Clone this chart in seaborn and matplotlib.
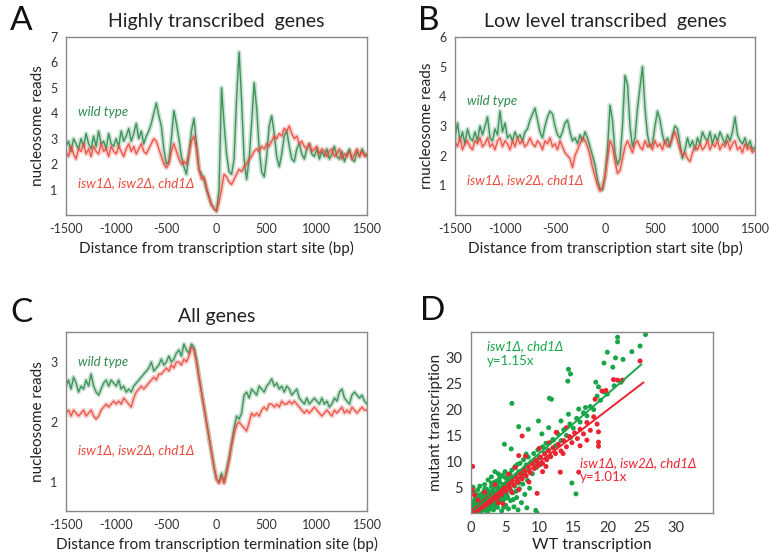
import numpy as np
import pandas as pd
import matplotlib
matplotlib.use("Agg")
import matplotlib.pyplot as plt
import seaborn as sns

# --- datos (paso de 25 pb, -1500 .. 1500) ---
a_wt = [2.7, 2.9, 2.5, 3.0, 2.8, 2.6, 3.0, 2.7, 3.2, 2.8,
        2.6, 3.1, 2.7, 3.3, 2.8, 2.9, 2.6, 3.2, 2.8, 2.7,
        3.0, 2.7, 3.3, 2.9, 3.1, 3.4, 2.9, 3.2, 3.6, 3.0,
        3.3, 2.8, 3.1, 3.3, 3.6, 4.0, 4.4, 3.9, 3.5, 2.6,
        2.0, 2.1, 3.0, 4.1, 3.6, 3.0, 2.3, 1.9, 1.6, 2.4,
        3.3, 3.8, 2.8, 1.8, 1.6, 1.4, 1.0, 0.7, 0.4, 0.25,
        0.15, 1.0, 5.0, 3.6, 2.4, 1.7, 1.6, 2.2, 4.6, 6.4,
        4.5, 2.2, 1.4, 2.2, 3.6, 5.2, 4.2, 2.6, 1.7, 1.5,
        2.3, 3.5, 3.9, 3.2, 2.3, 1.9, 2.4, 3.1, 3.3, 2.7,
        2.2, 2.1, 2.6, 2.8, 2.4, 2.2, 2.6, 2.8, 2.4, 2.3,
        2.6, 2.2, 2.5, 2.3, 2.6, 2.2, 2.4, 2.7, 2.3, 2.2,
        2.5, 2.1, 2.4, 2.6, 2.2, 2.1, 2.5, 2.3, 2.6, 2.4,
        2.3]
a_mut = [2.5, 2.3, 2.7, 2.4, 2.2, 2.6, 2.5, 2.8, 2.4, 2.6,
         2.3, 2.7, 2.5, 2.4, 2.8, 2.5, 2.6, 2.3, 2.7, 2.5,
         2.4, 2.7, 2.5, 2.3, 2.6, 2.8, 2.5, 2.7, 2.4, 2.6,
         2.8, 2.5, 2.4, 2.6, 2.8, 3.0, 2.9, 2.6, 2.3, 2.0,
         1.85, 2.0, 2.5, 2.8, 2.5, 2.2, 2.0, 2.1, 2.0, 2.4,
         2.9, 3.1, 2.6, 1.8, 1.4, 1.5, 1.1, 0.7, 0.4, 0.25,
         0.15, 0.5, 1.0, 1.6, 1.5, 1.3, 1.2, 1.4, 1.6, 1.8,
         1.7, 1.9, 2.0, 2.2, 2.3, 2.5, 2.6, 2.5, 2.7, 2.6,
         2.8, 2.7, 2.9, 3.1, 3.0, 3.2, 3.1, 3.4, 3.3, 3.5,
         3.2, 3.0, 3.1, 2.8, 2.9, 2.7, 2.6, 2.8, 2.5, 2.6,
         2.7, 2.4, 2.6, 2.5, 2.3, 2.5, 2.6, 2.3, 2.4, 2.6,
         2.2, 2.4, 2.3, 2.5, 2.2, 2.4, 2.6, 2.3, 2.5, 2.3,
         2.4]

b_wt = [2.6, 3.1, 2.5, 2.8, 2.4, 2.9, 2.6, 2.5, 2.8, 2.5,
        3.0, 2.7, 3.0, 3.3, 2.6, 2.5, 2.9, 2.7, 3.5, 2.8,
        3.1, 2.6, 2.7, 2.5, 2.8, 2.6, 2.7, 2.5, 2.8, 2.9,
        3.2, 3.4, 3.6, 3.2, 2.8, 2.6, 3.0, 3.3, 3.5, 3.4,
        3.0, 2.7, 2.6, 2.8, 3.1, 3.2, 2.8, 2.5, 2.6, 2.4,
        2.7, 2.5, 2.8, 2.6, 2.3, 2.0, 1.7, 1.2, 0.9, 0.85,
        1.3, 2.2, 3.7, 3.2, 2.1, 1.7, 1.9, 3.0, 4.7, 4.4,
        3.0, 2.3, 2.6, 3.6, 4.3, 5.0, 3.6, 2.7, 2.3, 2.4,
        3.0, 3.5, 3.2, 2.7, 2.4, 2.6, 2.3, 2.7, 3.0, 2.9,
        2.4, 1.9, 2.2, 2.6, 2.3, 2.5, 2.2, 2.6, 2.4, 2.8,
        2.6, 2.5, 2.8, 2.4, 2.7, 2.5, 2.8, 2.6, 2.4, 2.7,
        2.5, 2.8, 3.3, 2.7, 2.5, 2.4, 2.6, 2.3, 2.5, 2.2,
        2.3]
b_mut = [2.5, 2.3, 2.6, 2.2, 2.4, 2.5, 2.3, 2.2, 2.5, 2.4,
         2.6, 2.3, 2.4, 2.6, 2.3, 2.4, 2.2, 2.5, 2.6, 2.3,
         2.5, 2.4, 2.2, 2.5, 2.3, 2.6, 2.4, 2.5, 2.3, 2.4,
         2.6, 2.4, 2.3, 2.5, 2.4, 2.2, 2.5, 2.4, 2.6, 2.3,
         2.4, 2.2, 2.5, 2.3, 2.1, 2.0, 1.9, 1.6, 2.0, 2.2,
         2.4, 2.6, 2.5, 2.3, 2.0, 1.6, 1.3, 1.0, 0.8, 0.9,
         1.3, 1.9, 2.5, 2.3, 1.8, 1.4, 1.5, 1.9, 2.3, 2.5,
         2.3, 2.1, 2.4, 2.5, 2.3, 2.2, 2.5, 2.3, 2.4, 2.2,
         2.5, 2.3, 2.4, 2.2, 2.5, 2.3, 2.4, 2.6, 2.8, 2.5,
         2.2, 2.0, 2.1, 1.9, 1.8, 2.1, 2.3, 2.2, 2.4, 2.2,
         2.3, 2.5, 2.2, 2.4, 2.3, 2.5, 2.2, 2.4, 2.3, 2.5,
         2.2, 2.4, 2.5, 2.2, 2.3, 2.1, 2.4, 2.2, 2.3, 2.1,
         2.2]

c_wt = [2.6, 2.7, 2.55, 2.75, 2.65, 2.5, 2.6, 2.55, 2.7, 2.6,
        2.8, 2.6, 2.5, 2.45, 2.55, 2.65, 2.7, 2.6, 2.7, 2.65,
        2.6, 2.7, 2.55, 2.6, 2.5, 2.55, 2.5, 2.6, 2.65, 2.7,
        2.75, 2.8, 2.85, 2.9, 3.0, 2.85, 2.9, 2.95, 3.05, 2.95,
        3.0, 3.1, 3.0, 3.05, 3.15, 3.2, 3.1, 3.3, 3.2, 3.15,
        3.3, 3.25, 3.05, 2.75, 2.5, 2.25, 2.0, 1.75, 1.5, 1.25,
        1.05, 1.0, 1.15, 1.0, 1.2, 1.4, 1.65, 1.9, 2.1, 2.05,
        2.15, 2.45, 2.5, 2.4, 2.55, 2.5, 2.45, 2.6, 2.55, 2.5,
        2.6, 2.65, 2.72, 2.6, 2.65, 2.55, 2.6, 2.5, 2.6, 2.55,
        2.45, 2.5, 2.55, 2.4, 2.35, 2.3, 2.4, 2.3, 2.35, 2.4,
        2.35, 2.3, 2.4, 2.3, 2.35, 2.25, 2.3, 2.4, 2.35, 2.5,
        2.55, 2.4, 2.35, 2.3, 2.45, 2.5, 2.45, 2.4, 2.45, 2.35,
        2.3]
c_mut = [2.15, 2.2, 2.1, 2.2, 2.15, 2.1, 2.15, 2.2, 2.1, 2.15,
         2.2, 2.1, 2.05, 2.1, 2.2, 2.25, 2.3, 2.25, 2.3, 2.35,
         2.3, 2.35, 2.3, 2.4, 2.35, 2.3, 2.25, 2.4, 2.5, 2.55,
         2.6, 2.55, 2.6, 2.65, 2.7, 2.75, 2.7, 2.8, 2.8, 2.85,
         2.9, 2.85, 2.95, 2.9, 3.0, 3.0, 2.95, 3.05, 3.0, 3.1,
         3.25, 3.2, 3.0, 2.75, 2.5, 2.25, 2.0, 1.75, 1.5, 1.25,
         1.05, 0.98, 1.1, 0.98, 1.15, 1.35, 1.6, 1.8, 1.95, 2.0,
         1.95, 1.9, 1.85, 2.0, 2.15, 2.1, 2.15, 2.1, 2.2, 2.25,
         2.2, 2.3, 2.3, 2.25, 2.3, 2.25, 2.35, 2.3, 2.3, 2.35,
         2.3, 2.35, 2.3, 2.25, 2.2, 2.15, 2.2, 2.15, 2.2, 2.25,
         2.2, 2.15, 2.1, 2.15, 2.2, 2.15, 2.1, 2.2, 2.15, 2.2,
         2.25, 2.15, 2.2, 2.15, 2.25, 2.2, 2.15, 2.2, 2.25, 2.2,
         2.2]

# panel D: transcripcion WT vs mutante
d_g_x = [0.3, 0.5, 0.6, 0.8, 0.9, 1.0, 1.1, 1.2, 1.3, 1.4, 1.5, 1.6, 1.7, 1.8, 1.9,
         2.0, 2.1, 2.2, 2.3, 2.4, 2.5, 2.6, 2.7, 2.8, 2.9, 3.0, 3.1, 3.2, 3.3, 3.4,
         3.5, 3.6, 3.7, 3.8, 3.9, 4.0, 4.1, 4.2, 4.3, 4.4, 4.5, 4.6, 4.7, 4.8, 4.9,
         5.0, 5.1, 5.2, 5.3, 5.4, 5.5, 5.6, 5.7, 5.8, 5.9, 6.0, 6.1, 6.2, 6.3, 6.4,
         6.5, 6.6, 6.7, 6.8, 6.9, 7.0, 7.1, 7.2, 7.3, 7.4, 7.5, 7.6, 7.7, 7.8, 7.9,
         8.0, 8.1, 8.2, 8.3, 8.4, 8.5, 8.6, 8.8, 9.0, 9.2, 9.4, 9.6, 9.8, 10.0, 10.2,
         10.5, 10.8, 11.0, 11.3, 11.6, 12.0, 12.4, 12.8, 13.2, 13.6, 14.0, 14.5, 15.0,
         15.5, 16.0, 16.5, 17.0, 17.5, 18.0, 18.5, 19.0, 19.5, 20.0, 21.0, 22.0,
         0.2, 0.4, 0.7, 0.9, 1.2, 1.5, 1.9, 2.3, 2.6, 3.0, 3.3, 3.7, 4.0, 4.4,
         0.5, 0.6, 1.0, 1.3, 2.0, 2.5, 3.0, 3.5, 0.4, 0.8, 1.1, 1.8, 0.3,
         25.6, 21.5, 21.5, 24.8, 23.6, 20.0, 21.2, 22.3, 19.5, 20.8, 14.3, 14.6,
         14.2, 18.3, 18.7, 11.5, 11.8, 6.0, 15.8, 16.8, 14.3, 13.2, 9.9, 7.0,
         11.4, 8.4, 12.6, 10.4, 14.6, 12.1, 4.9, 5.9, 8.1, 14.8, 15.4, 9.5, 9.7]
d_g_y = [0.4, 0.9, 0.2, 1.2, 0.6, 1.8, 0.3, 1.1, 2.2, 0.8, 1.6, 0.4, 2.5, 1.3, 0.9,
         2.9, 1.8, 0.5, 2.2, 3.4, 1.2, 2.7, 0.8, 3.8, 2.0, 1.5, 3.1, 4.4, 0.6, 2.5,
         3.7, 1.9, 5.0, 2.9, 1.1, 4.2, 3.3, 6.0, 2.2, 4.8, 0.4, 3.8, 5.5, 2.6, 7.0,
         4.5, 1.5, 5.9, 3.3, 6.6, 0.8, 4.9, 7.6, 2.4, 5.8, 8.3, 3.9, 6.9, 1.2, 5.2,
         9.0, 7.4, 3.0, 6.1, 0.6, 8.0, 4.7, 9.6, 6.8, 2.0, 7.9, 5.6, 10.3, 8.6, 3.6,
         7.2, 9.3, 1.0, 6.3, 10.8, 8.2, 4.8, 9.8, 7.6, 11.5, 10.0, 8.8, 12.2, 10.7, 9.4,
         12.8, 11.6, 13.5, 12.2, 10.9, 14.2, 13.0, 15.2, 14.0, 16.1, 15.0, 17.2, 16.4,
         18.3, 17.6, 19.4, 18.8, 20.6, 20.0, 22.6, 21.8, 23.4, 23.0, 24.6, 25.3,
         0.1, 0.6, 0.9, 1.4, 0.7, 2.0, 2.4, 1.5, 1.9, 2.6, 3.5, 2.6, 3.0, 3.6,
         4.0, 3.0, 4.5, 5.2, 5.5, 6.4, 7.0, 8.0, 2.3, 2.9, 3.5, 4.0, 5.0,
         34.5, 34.0, 33.1, 32.3, 31.2, 31.1, 30.0, 29.7, 29.0, 28.2, 27.8, 26.9,
         25.5, 25.3, 24.4, 22.2, 22.0, 21.2, 20.1, 20.4, 19.1, 17.8, 17.8, 16.7,
         16.5, 16.2, 15.6, 15.3, 14.6, 14.1, 13.3, 12.4, 11.4, 5.8, 3.7, 0.5, 0.0]

# nube densa cerca del origen
d_g2_x = [0.2, 0.4, 0.6, 0.8, 1.0, 1.2, 1.4, 1.6, 1.8, 2.0, 2.2, 2.4, 2.6, 2.8, 3.0,
          3.2, 3.4, 3.6, 3.8, 4.0, 4.2, 4.4, 4.6, 4.8, 5.0, 5.2, 5.4, 5.6, 5.8, 6.0,
          6.2, 6.4, 6.6, 6.8, 7.0,
          0.3, 0.7, 1.1, 1.5, 1.9, 2.3, 2.7, 3.1, 3.5, 3.9, 4.3, 4.7, 5.1, 5.5, 5.9,
          0.5, 1.0, 1.5, 2.0, 2.5, 3.0, 3.5, 4.0, 4.5, 5.0]
d_g2_y = [1.0, 0.3, 1.5, 0.5, 2.4, 1.6, 3.0, 1.0, 3.3, 1.4, 3.9, 2.1, 4.2, 2.6, 5.1,
          1.9, 5.6, 3.2, 6.2, 2.0, 6.8, 3.4, 7.3, 1.1, 8.0, 3.8, 2.9, 6.2, 4.4, 7.0,
          2.6, 8.8, 4.2, 9.4, 5.8,
          1.6, 2.0, 2.8, 0.6, 3.6, 4.6, 3.0, 4.0, 6.0, 5.2, 4.8, 3.1, 6.8, 5.3, 6.5,
          1.9, 0.7, 3.6, 4.6, 0.3, 5.8, 1.2, 7.6, 2.7, 5.5]

d_r_x = [0.3, 0.5, 0.7, 0.9, 1.1, 1.3, 1.5, 1.7, 1.9, 2.1, 2.3, 2.5, 2.8, 3.0, 3.3,
         3.6, 3.9, 4.2, 4.5, 4.8, 5.1, 5.4, 5.7, 6.0, 6.3, 6.6, 6.9, 7.2, 7.5, 7.8,
         8.1, 8.4, 8.7, 9.0, 9.3, 9.6, 9.9, 10.2, 10.5, 10.8, 11.1, 11.4, 11.7, 12.0,
         12.4, 12.8, 13.2, 13.6, 14.0, 14.4, 14.8, 15.2, 15.6, 16.0, 16.5, 17.0, 17.5,
         18.0, 18.5, 19.2, 19.8, 18.2, 20.9, 21.5, 22.2, 24.8, 18.7, 18.7, 18.7, 17.0,
         7.5, 7.0, 9.5, 13.1, 15.8, 0.25, 9.7, 4.7, 5.5, 6.5, 8.0, 10.0, 11.5, 12.5,
         14.0, 3.5, 2.0, 1.0, 0.5, 0.2, 6.0, 8.5, 10.5, 4.0, 7.0, 11.0, 13.5, 16.0]
d_r_y = [0.2, 0.7, 0.4, 1.0, 0.6, 1.4, 1.0, 1.9, 1.3, 2.4, 1.7, 2.8, 2.1, 3.3, 2.6,
         3.8, 3.0, 4.5, 3.6, 5.0, 4.2, 5.8, 4.8, 6.3, 5.4, 7.0, 6.0, 7.6, 6.6, 8.3,
         7.2, 9.0, 7.8, 9.5, 8.6, 10.1, 9.2, 10.8, 9.6, 11.4, 10.3, 12.0, 10.9, 12.6,
         11.5, 13.3, 12.0, 14.0, 12.8, 14.8, 13.6, 15.5, 14.4, 16.2, 15.3, 17.5, 16.0,
         18.6, 17.2, 23.6, 23.7, 22.0, 25.8, 25.7, 25.7, 29.4, 15.7, 13.7, 12.9, 14.1,
         14.9, 11.1, 10.2, 7.9, 7.9, 9.0, 3.8, 1.8, 7.5, 8.8, 11.0, 12.5, 13.6, 15.6,
         16.5, 5.5, 4.0, 2.5, 3.5, 4.5, 4.0, 6.0, 8.0, 2.0, 4.5, 9.0, 11.5, 13.0]

pendiente_g = 1.15
pendiente_r = 1.01
x_recta = [0.5, 25.0]

ticks_bp = [-1500, -1000, -500, 0, 500, 1000, 1500]

verde = "#2e8b4e"
rojo = "#ea4a3c"
verde_d = "#18a648"
rojo_d = "#ea2430"
gris = "#333333"

sns.set_style("white")
plt.rcParams['font.family'] = ['Lato', 'DejaVu Sans']
plt.rcParams['axes.unicode_minus'] = False


def estilo(ax, tam=9):
    for s in ax.spines.values():
        s.set_color('#888888')
        s.set_linewidth(1.0)
    ax.tick_params(axis='both', direction='out', length=3, width=0.8, color='#888888',
                   labelsize=tam, labelcolor=gris, pad=3)


def perfil(ax, wt, mut, ylim, yticks, titulo, xlabel, ylabel, y_wt, y_mut):
    x = np.linspace(-1500, 1500, len(wt))
    df = pd.DataFrame({'bp': x, 'wt': wt, 'mut': mut})
    for col, color in [('wt', verde), ('mut', rojo)]:
        sns.lineplot(data=df, x='bp', y=col, ax=ax, color=color, lw=3.4, alpha=0.25)
        sns.lineplot(data=df, x='bp', y=col, ax=ax, color=color, lw=1.0, alpha=0.9)
    ax.set_xlim(-1500, 1500)
    ax.set_ylim(*ylim)
    ax.set_xticks(ticks_bp)
    ax.set_yticks(yticks)
    ax.set_title(titulo, fontsize=14, color='#222222', pad=7)
    ax.set_xlabel(xlabel, fontsize=11, color='#222222', labelpad=4)
    ax.set_ylabel(ylabel, fontsize=11, color='#222222', labelpad=4)
    ax.text(-1380, y_wt, 'wild type', color=verde, style='italic', fontsize=9.5, va='center')
    ax.text(-1380, y_mut, 'isw1\u0394, isw2\u0394, chd1\u0394', color=rojo, style='italic',
            fontsize=9.5, va='center')
    estilo(ax)


fig = plt.figure(figsize=(7.73, 5.6), dpi=100)
axA = fig.add_axes([0.0854, 0.6161, 0.3894, 0.3179])
axB = fig.add_axes([0.5886, 0.6161, 0.3881, 0.3179])
axC = fig.add_axes([0.0854, 0.0875, 0.3894, 0.3196])
axD = fig.add_axes([0.6093, 0.0839, 0.3131, 0.3232])

perfil(axA, a_wt, a_mut, (0, 7), [1, 2, 3, 4, 5, 6, 7], 'Highly transcribed  genes',
       'Distance from transcription start site (bp)', 'nucleosome reads', 4.05, 1.26)
perfil(axB, b_wt, b_mut, (0, 6), [1, 2, 3, 4, 5, 6], 'Low level transcribed  genes',
       'Distance from transcription start site (bp)', 'rnucleosome reads', 3.85, 1.18)
perfil(axC, c_wt, c_mut, (0.52, 3.5), [1, 2, 3], 'All genes',
       'Distance from transcription termination site (bp)', 'nucleosome reads', 3.0, 1.53)

# panel D
sns.scatterplot(x=d_g_x + d_g2_x, y=d_g_y + d_g2_y, ax=axD, color=verde_d, s=13, edgecolor='none')
sns.scatterplot(x=d_r_x, y=d_r_y, ax=axD, color=rojo_d, s=13, edgecolor='none')
xr = np.array(x_recta)
axD.plot(xr, pendiente_g * xr, color=verde_d, lw=1.4)
axD.plot(xr + 0.3, pendiente_r * xr, color=rojo_d, lw=1.4)
axD.set_xlim(0, 35.5)
axD.set_ylim(0, 35)
axD.set_xticks([0, 5, 10, 15, 20, 25, 30])
axD.set_yticks([5, 10, 15, 20, 25, 30])
axD.set_xlabel('WT transcription', fontsize=11.5, color='#222222', labelpad=2)
axD.set_ylabel('mutant transcription', fontsize=11, color='#222222', labelpad=2)
axD.text(2.3, 32.3, 'isw1\u0394, chd1\u0394', color=verde_d, style='italic', fontsize=9.5, va='center')
axD.text(2.3, 29.3, 'y=1.15x', color=verde_d, fontsize=9.5, va='center')
axD.text(16.0, 9.7, 'isw1\u0394, isw2\u0394, chd1\u0394', color=rojo_d, style='italic', fontsize=9.5, va='center')
axD.text(16.0, 6.9, 'y=1.01x', color=rojo_d, fontsize=9.5, va='center')
estilo(axD, 10.5)

# letras de panel
for letra, (px, py) in {'A': (10, 6), 'B': (418, 6), 'C': (10, 298), 'D': (420, 296)}.items():
    fig.text(px / 773, 1 - py / 560, letra, fontsize=24, va='top', ha='left', color='#111111')

fig.savefig('out.png', dpi=100)
